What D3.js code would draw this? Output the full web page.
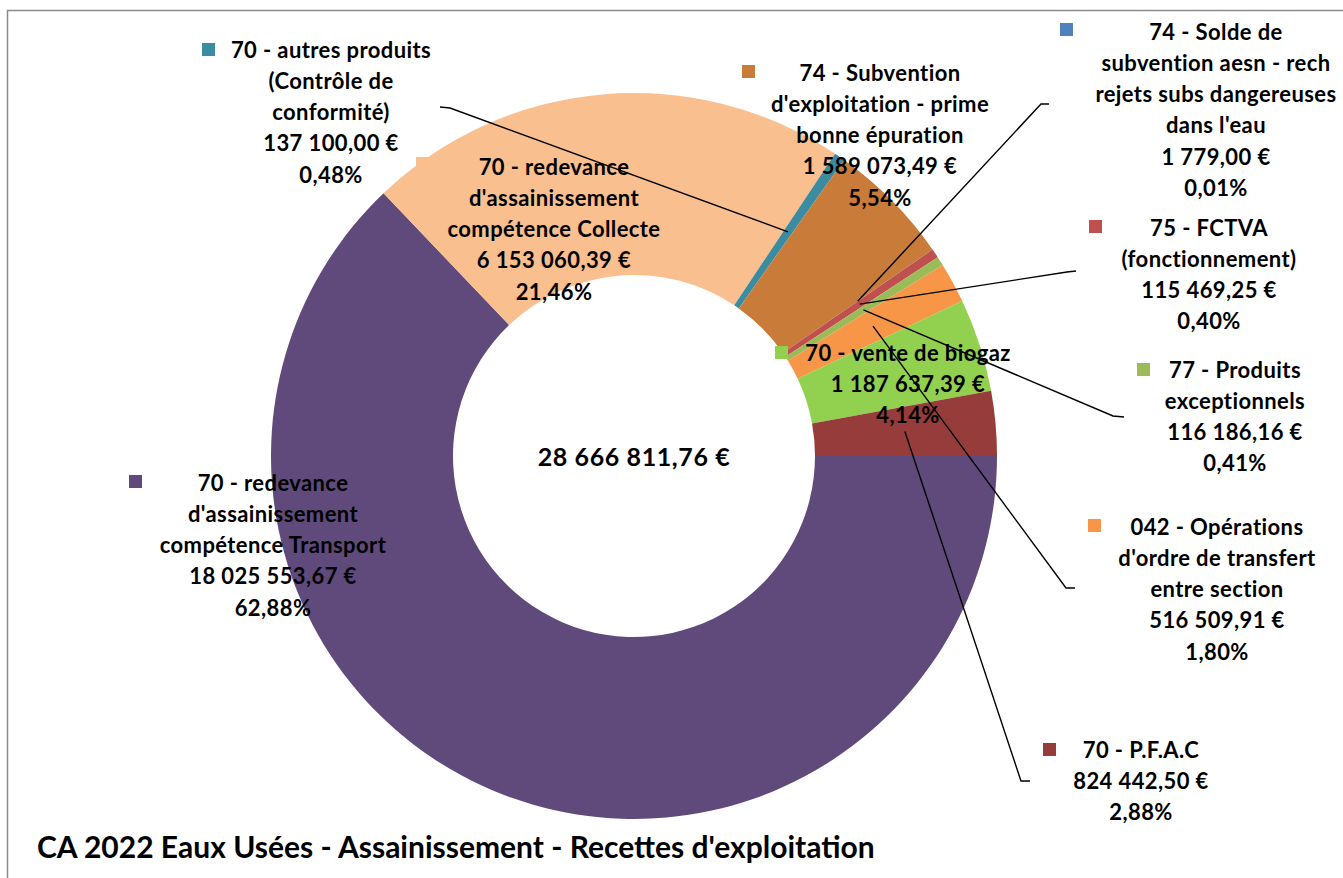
<!DOCTYPE html>
<html>
<head>
<meta charset="utf-8">
<script src="https://cdn.jsdelivr.net/npm/d3@7"></script>
<style>
  body { margin: 0; background: #fff; }
  svg { display: block; }
  text { font-family: Lato, "Open Sans", sans-serif; font-weight: bold; fill: #000; }
</style>
</head>
<body>
<div id="chart"></div>
<script>
// data, in drawing order (clockwise from 3 o'clock)
var names = [
  ["70 - redevance", "d'assainissement", "compétence Transport"],
  ["70 - redevance", "d'assainissement", "compétence Collecte"],
  ["70 - autres produits", "(Contrôle de", "conformité)"],
  ["74 - Subvention", "d'exploitation - prime", "bonne épuration"],
  ["74 - Solde de", "subvention aesn - rech", "rejets subs dangereuses", "dans l'eau"],
  ["75 - FCTVA", "(fonctionnement)"],
  ["77 - Produits", "exceptionnels"],
  ["042 - Opérations", "d'ordre de transfert", "entre section"],
  ["70 - vente de biogaz"],
  ["70 - P.F.A.C"]
];
var amounts = [18025553.67, 6153060.39, 137100.00, 1589073.49, 1779.00,
               115469.25, 116186.16, 516509.91, 1187637.39, 824442.50];
var colors = ["#5f4a7b", "#f9bf8f", "#3b8ca1", "#c97b39", "#4f81bd",
              "#c0504d", "#9bbb59", "#f79646", "#92d050", "#963c3a"];
var title = "CA 2022 Eaux Usées - Assainissement - Recettes d'exploitation";

// label placement (text centre x, first line y, key corner, leader end + hook)
var layout = [
  { x: 273, y: 483, key: [129, 475], leader: null },
  { x: 554, y: 167, key: [416, 157], leader: null },
  { x: 331, y: 50, key: [202, 43], leader: [[440, 107], [450, 108]] },
  { x: 880, y: 73, key: [742, 65], leader: null },
  { x: 1216, y: 32, key: [1060, 23], leader: [[1049, 104], [1041, 104]] },
  { x: 1209, y: 228, key: [1089, 220], leader: [[1076, 271], [1067, 272]] },
  { x: 1235, y: 370, key: [1137, 363], leader: [[1124, 417], [1113, 416]] },
  { x: 1217, y: 527, key: [1088, 519], leader: [[1075, 588], [1066, 588]] },
  { x: 908, y: 353, key: [775, 346], leader: null },
  { x: 1141, y: 750, key: [1043, 743], leader: [[1030, 781], [1021, 781]] }
];

var W = 1343, H = 878;
var cx = 634, cy = 456, outerR = 363, innerR = 181;
var lineH = 31.2, keySize = 13;

var fr = d3.formatLocale({ decimal: ",", thousands: " ", grouping: [3], currency: ["", " €"] });
var euro = fr.format(",.2f");
var total = d3.sum(amounts);

var data = amounts.map(function (v, i) {
  return { name: names[i], value: v, color: colors[i], pos: layout[i] };
});

var svg = d3.select("#chart").append("svg")
  .attr("width", W)
  .attr("height", H);

// frame
svg.append("rect")
  .attr("x", 7.5).attr("y", 10.5)
  .attr("width", W + 20).attr("height", H + 20)
  .attr("fill", "none")
  .attr("stroke", "#8a8a8a")
  .attr("stroke-width", 1.5);

var pie = d3.pie()
  .sort(null)
  .value(function (d) { return d.value; })
  .startAngle(Math.PI / 2)
  .endAngle(Math.PI / 2 + 2 * Math.PI);

var arc = d3.arc().innerRadius(innerR).outerRadius(outerR);

var g = svg.append("g").attr("transform", "translate(" + cx + "," + cy + ")");
var arcs = pie(data);

g.selectAll(".slice")
  .data(arcs)
  .enter()
  .append("path")
  .attr("class", "slice")
  .attr("d", arc)
  .attr("fill", function (d) { return d.data.color; });

// leader lines
var line = d3.line();
svg.selectAll(".leader")
  .data(arcs.filter(function (d) { return d.data.pos.leader; }))
  .enter()
  .append("path")
  .attr("class", "leader")
  .attr("fill", "none")
  .attr("stroke", "#000")
  .attr("stroke-width", 1.4)
  .attr("d", function (d) {
    var c = arc.centroid(d);
    var pts = d.data.pos.leader.concat([[c[0] + cx, c[1] + cy]]);
    return line(pts);
  });

// labels
var labels = svg.selectAll(".lbl")
  .data(arcs)
  .enter()
  .append("g")
  .attr("class", "lbl");

labels.append("rect")
  .attr("x", function (d) { return d.data.pos.key[0]; })
  .attr("y", function (d) { return d.data.pos.key[1]; })
  .attr("width", keySize)
  .attr("height", keySize)
  .attr("fill", function (d) { return d.data.color; });

labels.each(function (d) {
  var rows = d.data.name.concat([
    euro(d.data.value) + " €",
    (d.data.value / total * 100).toFixed(2).replace(".", ",") + "%"
  ]);
  d3.select(this).selectAll("text")
    .data(rows)
    .enter()
    .append("text")
    .attr("x", d.data.pos.x)
    .attr("y", function (r, i) { return d.data.pos.y + i * lineH; })
    .attr("dy", "0.35em")
    .attr("text-anchor", "middle")
    .style("font-size", "22px")
    .style("letter-spacing", "0.4px")
    .text(function (r) { return r; });
});

// total in the hole
svg.append("text")
  .attr("x", cx)
  .attr("y", cy + 1)
  .attr("dy", "0.35em")
  .attr("text-anchor", "middle")
  .style("font-size", "25px")
  .style("letter-spacing", "0.6px")
  .text(euro(total) + " €");

// title
svg.append("text")
  .attr("x", 37)
  .attr("y", 858)
  .style("font-size", "30px")
  .text(title);
</script>
</body>
</html>
